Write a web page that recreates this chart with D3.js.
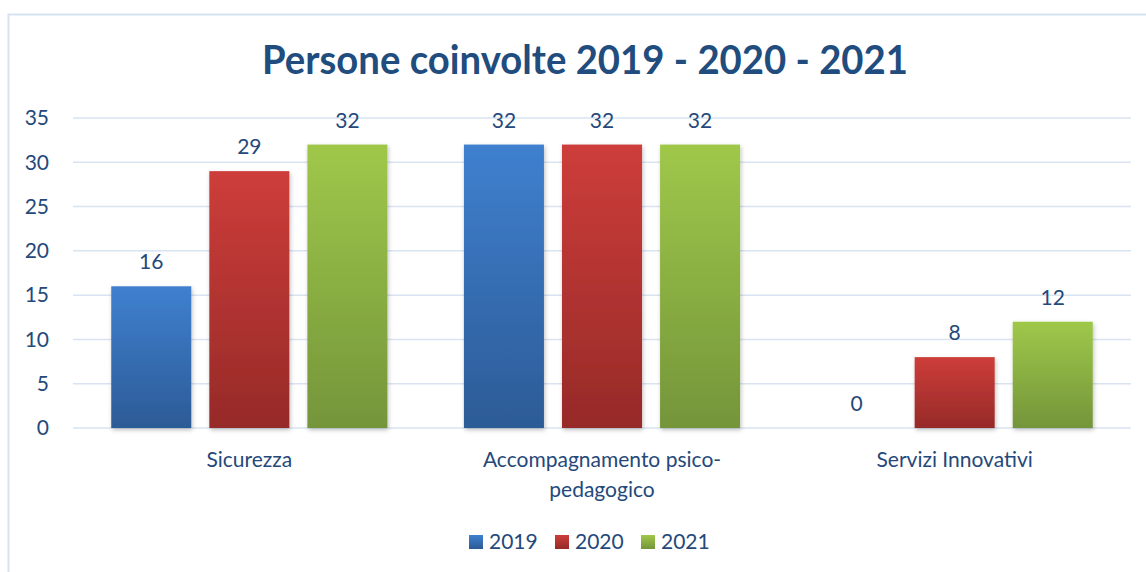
<!DOCTYPE html>
<html>
<head>
<meta charset="utf-8">
<script src="https://cdn.jsdelivr.net/npm/d3@7"></script>
<style>
  body { margin: 0; background: #fff; }
  svg { display: block; font-family: Lato, "Open Sans", sans-serif; }
</style>
</head>
<body>
<svg id="chart" width="1146" height="572"></svg>
<script>
// data
const categories = ["Sicurezza", "Accompagnamento psico-pedagogico", "Servizi Innovativi"];
const categoryLines = [["Sicurezza"], ["Accompagnamento psico-", "pedagogico"], ["Servizi Innovativi"]];
const years = ["2019", "2020", "2021"];
const values2019 = [16, 32, 0];
const values2020 = [29, 32, 8];
const values2021 = [32, 32, 12];
const yTicks = [0, 5, 10, 15, 20, 25, 30, 35];

const series = [values2019, values2020, values2021];
const colors = {
  "2019": ["#3f80cf", "#2c5b96"],
  "2020": ["#cd3d3a", "#962a28"],
  "2021": ["#9fc84a", "#74953a"]
};
const textColor = "#24497a";
const fs = 21;

const svg = d3.select("#chart");
const margin = { left: 73, right: 15 };
const W = 1146;

// defs: gradients + shadow
const defs = svg.append("defs");
years.forEach(y => {
  const g = defs.append("linearGradient")
    .attr("id", "grad" + y).attr("x1", 0).attr("y1", 0).attr("x2", 0).attr("y2", 1);
  g.append("stop").attr("offset", "0%").attr("stop-color", colors[y][0]);
  g.append("stop").attr("offset", "100%").attr("stop-color", colors[y][1]);
});
const f = defs.append("filter").attr("id", "shadow")
  .attr("x", "-10%").attr("y", "-10%").attr("width", "130%").attr("height", "130%");
f.append("feDropShadow").attr("dx", 1).attr("dy", 2).attr("stdDeviation", 2)
  .attr("flood-color", "#000").attr("flood-opacity", 0.25);

// outer frame (only left/top visible)
svg.append("path")
  .attr("d", "M8.5,572 V14.5 H1146")
  .attr("fill", "none").attr("stroke", "#d6e3f3").attr("stroke-width", 2);

// title
svg.append("text")
  .attr("x", 585).attr("y", 74)
  .attr("text-anchor", "middle")
  .attr("font-size", 40).attr("font-weight", "bold")
  .attr("fill", "#214c7e")
  .attr("textLength", 646).attr("lengthAdjust", "spacingAndGlyphs")
  .text("Persone coinvolte 2019 - 2020 - 2021");

const x0 = d3.scaleBand().domain(categories).range([margin.left, W - margin.right]).padding(0);
const x1 = d3.scaleBand().domain(years).range([0, x0.bandwidth()]).paddingInner(0.184).paddingOuter(0.39);
const y = d3.scaleLinear().domain([0, 35]).range([428, 118]);

// gridlines
svg.append("g")
  .selectAll("line").data(yTicks).join("line")
  .attr("x1", margin.left).attr("x2", W - margin.right)
  .attr("y1", d => y(d)).attr("y2", d => y(d))
  .attr("stroke", "#d9e4f2").attr("stroke-width", 1.5);

// y axis labels
const yAxis = svg.append("g")
  .attr("transform", `translate(${margin.left - 24},0)`)
  .call(d3.axisLeft(y).tickValues(yTicks).tickSize(0).tickPadding(0));
yAxis.select(".domain").remove();
yAxis.selectAll("text")
  .attr("font-size", fs).attr("fill", textColor)
  .attr("font-family", "Lato, 'Open Sans', sans-serif");

// bars
const groups = svg.append("g").selectAll("g").data(categories).join("g")
  .attr("transform", d => `translate(${x0(d)},0)`);

groups.selectAll("rect")
  .data((c, i) => years.map((yr, k) => ({ yr, v: series[k][i] })))
  .join("rect")
  .filter(d => d.v > 0)
  .attr("x", d => x1(d.yr))
  .attr("width", x1.bandwidth())
  .attr("y", d => y(d.v))
  .attr("height", d => y(0) - y(d.v))
  .attr("fill", d => `url(#grad${d.yr})`)
  .attr("filter", "url(#shadow)");

// data labels
groups.selectAll("text.val")
  .data((c, i) => years.map((yr, k) => ({ yr, v: series[k][i] })))
  .join("text")
  .attr("class", "val")
  .attr("x", d => x1(d.yr) + x1.bandwidth() / 2)
  .attr("y", d => y(d.v) - 17)
  .attr("text-anchor", "middle")
  .attr("font-size", fs).attr("fill", textColor)
  .text(d => d.v);

// category labels
categories.forEach((c, i) => {
  const cx = x0(c) + x0.bandwidth() / 2;
  const t = svg.append("text")
    .attr("x", cx).attr("y", 467)
    .attr("text-anchor", "middle")
    .attr("font-size", fs).attr("fill", textColor);
  categoryLines[i].forEach((l, j) => {
    t.append("tspan").attr("x", cx).attr("dy", j ? 30 : 0).text(l);
  });
});

// legend
const leg = svg.append("g").selectAll("g").data(years).join("g")
  .attr("transform", (d, i) => `translate(${469 + i * 86},535)`);
leg.append("rect").attr("width", 14).attr("height", 14)
  .attr("fill", d => `url(#grad${d})`);
leg.append("text").attr("x", 20).attr("y", 14)
  .attr("font-size", fs).attr("fill", textColor)
  .text(d => d);
</script>
</body>
</html>
